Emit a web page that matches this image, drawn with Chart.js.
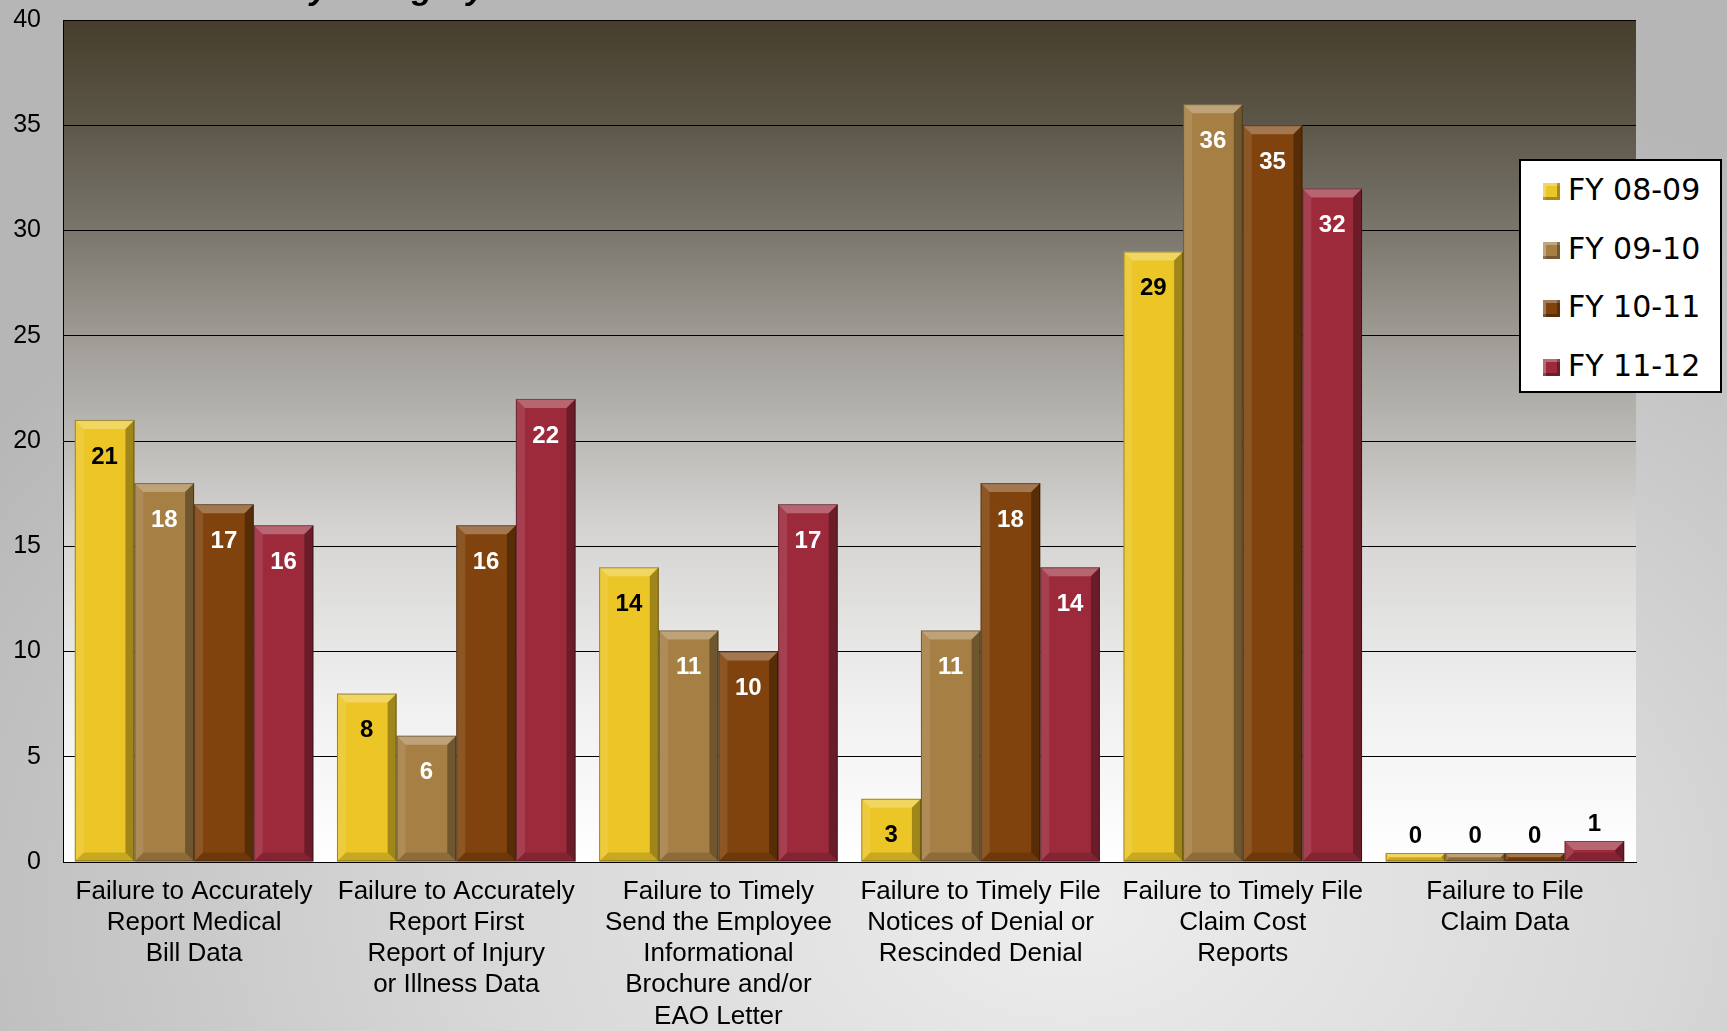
<!DOCTYPE html>
<html>
<head>
<meta charset="utf-8">
<script src="https://cdn.jsdelivr.net/npm/chart.js@4.4.1/dist/chart.umd.min.js"></script>
<style>
    html, body { margin: 0; padding: 0; }
    body {
        width: 1727px; height: 1031px; overflow: hidden;
        background: radial-gradient(ellipse 75% 85% at 62% 88%, #ededed 0%, #d8d8d8 45%, #b6b6b6 100%);
    }
    #wrap { position: relative; width: 1727px; height: 1031px; }
    #legend {
        position: absolute; left: 1519px; top: 159px; width: 199px; height: 230px;
        background: #fff; border: 2px solid #000;
        font-family: "DejaVu Sans", Verdana, sans-serif; font-size: 30px; color: #000;
    }
    #legend .item { position: absolute; left: 22px; height: 36px; line-height: 36px; white-space: nowrap; }
    #legend .sw { display: inline-block; width: 17px; height: 17px; margin-right: 8px; vertical-align: 0px;
        box-shadow: inset -3px -3px 0 rgba(0,0,0,.3), inset 3px 3px 0 rgba(255,255,255,.3); }
</style>
</head>
<body>
<div id="wrap">
    <canvas id="violationsChart" width="1727" height="1031"></canvas>
    <div id="legend"></div>
</div>
<script>

// categories (multi-line x labels)
const categories = [
    ['Failure to Accurately', 'Report Medical', 'Bill Data'],
    ['Failure to Accurately', 'Report First', 'Report of Injury', 'or Illness Data'],
    ['Failure to Timely', 'Send the Employee', 'Informational', 'Brochure and/or', 'EAO Letter'],
    ['Failure to Timely File', 'Notices of Denial or', 'Rescinded Denial'],
    ['Failure to Timely File', 'Claim Cost', 'Reports'],
    ['Failure to File', 'Claim Data'],
];

const seriesNames = ['FY 08-09', 'FY 09-10', 'FY 10-11', 'FY 11-12'];
const seriesColors = ['#ecc626', '#a67f45', '#80430d', '#9c2a3b'];

const fy0809 = [21, 8, 14, 3, 29, 0];
const fy0910 = [18, 6, 11, 11, 36, 0];
const fy1011 = [17, 16, 10, 18, 35, 0];
const fy1112 = [16, 22, 17, 14, 32, 1];

const yTicks = [0, 5, 10, 15, 20, 25, 30, 35, 40];

const seriesValues = [fy0809, fy0910, fy1011, fy1112];


// legend (html)
seriesNames.forEach((name, i) => {
    let el = document.createElement('div');
    el.className = 'item';
    el.style.top = (11 + i * 58.5) + 'px';
    el.innerHTML = `<span class="sw" style="background:${seriesColors[i]}"></span>${name}`;
    document.getElementById('legend').appendChild(el);
});


// plot area gradient + cut-off title
const backdrop = {
    id: 'backdrop',
    beforeDraw(chart) {
        const { ctx, chartArea: a } = chart;
        const g = ctx.createLinearGradient(0, a.top, 0, a.bottom);
        g.addColorStop(0, '#463e2c');
        g.addColorStop(0.12, '#5c5648');
        g.addColorStop(0.25, '#7a766c');
        g.addColorStop(0.4, '#a5a29d');
        g.addColorStop(0.6, '#d4d3d1');
        g.addColorStop(0.8, '#efefef');
        g.addColorStop(1, '#ffffff');
        ctx.save();
        ctx.fillStyle = g;
        ctx.fillRect(a.left, a.top, a.right - a.left, a.bottom - a.top);
        ctx.fillStyle = '#000';
        ctx.font = 'italic bold 34px "Liberation Sans", Arial, sans-serif';
        ctx.textBaseline = 'alphabetic';
        ctx.fillText('by Category', 289, -1);
        ctx.restore();
    }
};

// bevel on every bar + value labels
const bevel = {
    id: 'bevel',
    afterDatasetsDraw(chart) {
        const { ctx } = chart;
        ctx.save();
        chart.data.datasets.forEach((ds, di) => {
            const meta = chart.getDatasetMeta(di);
            meta.data.forEach((bar, i) => {
                const l = bar.x - bar.width / 2, r = bar.x + bar.width / 2;
                const t = bar.y, btm = bar.base;
                const b = Math.min(9, (btm - t) / 2);
                const poly = (pts, fill) => {
                    ctx.beginPath();
                    ctx.moveTo(pts[0][0], pts[0][1]);
                    pts.slice(1).forEach(p => ctx.lineTo(p[0], p[1]));
                    ctx.closePath();
                    ctx.fillStyle = fill;
                    ctx.fill();
                };
                poly([[l, t], [r, t], [r - b, t + b], [l + b, t + b]], 'rgba(255,255,255,0.28)');
                poly([[r, t], [r, btm], [r - b, btm - b], [r - b, t + b]], 'rgba(0,0,0,0.32)');
                poly([[l, t], [l + b, t + b], [l + b, btm - b], [l, btm]], 'rgba(255,255,255,0.10)');
                poly([[l, btm], [l + b, btm - b], [r - b, btm - b], [r, btm]], 'rgba(0,0,0,0.15)');
                ctx.strokeStyle = 'rgba(0,0,0,0.35)';
                ctx.lineWidth = 1;
                ctx.strokeRect(l + 0.5, t + 0.5, bar.width - 1, btm - t - 1);

                const v = ds.data[i];
                ctx.font = 'bold 24px "Liberation Sans", Arial, sans-serif';
                ctx.textAlign = 'center';
                ctx.textBaseline = 'middle';
                if (btm - t < 40) {
                    ctx.fillStyle = '#000';
                    ctx.fillText(v, bar.x, t - 17);
                } else {
                    ctx.fillStyle = di === 0 ? '#000' : '#fff';
                    ctx.fillText(v, bar.x, t + 37);
                }
            });
        });
        ctx.restore();
    }
};

new Chart(document.getElementById('violationsChart'), {
    type: 'bar',
    data: {
        labels: categories,
        datasets: seriesNames.map((name, i) => ({
            label: name,
            data: seriesValues[i],
            backgroundColor: seriesColors[i],
            borderWidth: 0,
            minBarLength: 9,
            barPercentage: 1.0,
            categoryPercentage: 0.91,
        })),
    },
    options: {
        responsive: false,
        animation: false,
        layout: { padding: { top: 20, right: 91, left: 0, bottom: 0 } },
        plugins: { legend: { display: false }, tooltip: { enabled: false } },
        scales: {
            y: {
                min: 0, max: 40,
                afterFit: s => { s.width = 63; s.paddingTop = 0; s.paddingBottom = 0; },
                afterBuildTicks: s => { s.ticks = yTicks.map(v => ({ value: v })); },
                ticks: {
                    padding: 22,
                    color: '#000',
                    font: { family: '"Liberation Sans Narrow", "Liberation Sans", Arial, sans-serif', size: 25 },
                },
                grid: { color: '#000', lineWidth: 1, drawTicks: false },
                border: { color: '#000', width: 1 },
            },
            x: {
                afterFit: s => { s.height = 169; s.paddingLeft = 0; s.paddingRight = 0; },
                ticks: {
                    padding: 14,
                    color: '#000',
                    maxRotation: 0,
                    autoSkip: false,
                    font: { family: '"Liberation Sans Narrow", "Liberation Sans", Arial, sans-serif', size: 26, lineHeight: 1.2 },
                },
                grid: { display: false, drawTicks: false },
                border: { color: '#000', width: 1 },
            },
        },
    },
    plugins: [backdrop, bevel],
});

</script>
</body>
</html>
